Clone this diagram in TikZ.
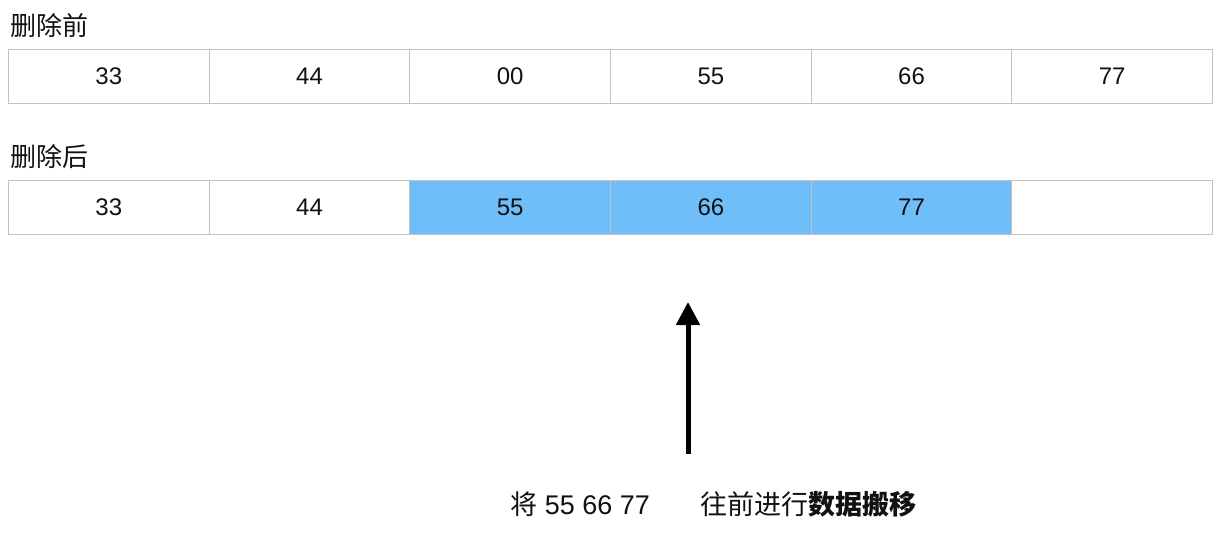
\documentclass[tikz,border=0pt]{standalone}
\usepackage{fontspec}
\setmainfont{Liberation Sans}
\newfontfamily\cjk{Noto Sans CJK SC}
\usetikzlibrary{arrows.meta,positioning}
\definecolor{ink}{HTML}{111111}
\definecolor{line}{HTML}{C2C2C2}
\definecolor{moved}{HTML}{70BEF9}

\begin{document}
\begin{tikzpicture}[x=0.5pt,y=-0.5pt,
  cell/.style={draw=line,line width=0.5pt,minimum width=100.33pt,minimum height=27pt,inner sep=0pt,anchor=north west,font=\fontsize{12}{14}\selectfont,text=ink},
  title/.style={anchor=west,inner sep=0pt,font=\cjk\fontsize{13}{15}\selectfont,text=ink},
  note/.style={anchor=west,inner sep=0pt,font=\fontsize{13.5}{16}\selectfont,text=ink}]
  \useasboundingbox (0,0) rectangle (1224,536);
  \node[title] (before) at (10,26) {删除前};
  \foreach \i/\v in {1/33,2/44,3/00,4/55,5/66,6/77}{
    \node[cell] (top\i) at ({8+(\i-1)*200.67},49) {\v};
  }
  \node[title] (after) at (10,157) {删除后};
  \foreach \i/\v/\col in {1/33/white,2/44/white,3/55/moved,4/66/moved,5/77/moved,6/{}/white}{
    \node[cell,fill=\col] (bot\i) at ({8+(\i-1)*200.67},180) {\v};
  }
  % shift arrow
  \coordinate (from) at (688,454);
  \coordinate (to) at (688,302);
  \draw[-{Triangle[length=11.5pt,width=11.5pt]},line width=2.5pt,black] (from) -- (to);
  \node[note] (what) at (510,504) {{\cjk 将} 55 66 77};
  \node[note] (how) at (700,504) {\cjk 往前进行\textbf{数据搬移}};
\end{tikzpicture}
\end{document}
